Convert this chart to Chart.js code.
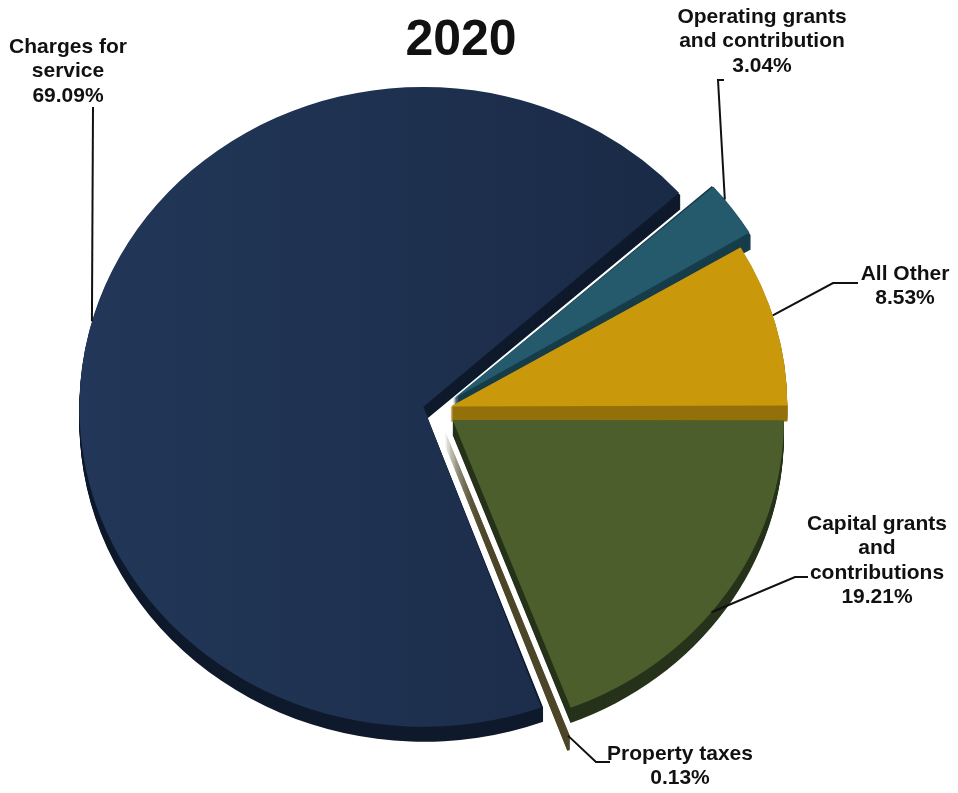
<!DOCTYPE html>
<html>
<head>
<meta charset="utf-8">
<script src="https://cdn.jsdelivr.net/npm/chart.js@4.4.1/dist/chart.umd.min.js"></script>
<style>
  html, body { margin: 0; padding: 0; background: #fff; }
  #wrap { width: 958px; height: 793px; }
</style>
</head>
<body>
<div id="wrap"><canvas id="revenueChart" width="958" height="793"></canvas></div>
<script>
// slices run clockwise from 3 o'clock
const categories = ["Capital grants and contributions", "Property taxes", "Charges for service", "Operating grants and contribution", "All Other"];
const shares = [19.21, 0.13, 69.09, 3.04, 8.53];
const labelLines = [
  ["Capital grants", "and", "contributions"],
  ["Property taxes"],
  ["Charges for", "service"],
  ["Operating grants", "and contribution"],
  ["All Other"]
];
const chartTitle = "2020";

const faceColors = ["#4b5e2b", "#bcae74", "#1e3150", "#245a6c", "#c9980b"];
const sideColors = ["#26331a", "#4d4628", "#0f1a2c", "#173c4a", "#93700a"];
const explode = [76, 88, 56, 80, 56];

const tilt = 0.93;   // squash the pie vertically so it reads as tilted
const depth = 15;    // thickness of the slice sides

// where each leader touches its slice (degrees), its elbow and the text block
const leaders = [
  { angle: 38.6, path: [[808, 577], [795, 577]], x: 877, y: 524 },
  { angle: 69.5, path: [[610, 762], [596, 762]], x: 680, y: 754 },
  { angle: 195.5, path: [[93, 107]], x: 68, y: 47 },
  { angle: -38.3, path: [[724, 80], [718, 80]], x: 762, y: 17 },
  { angle: -16.9, path: [[858, 283], [833, 283]], x: 905, y: 274 }
];

function sliceGeom(arc, offset) {
  const p = arc.getProps(['x', 'y', 'startAngle', 'endAngle', 'outerRadius']);
  const t = offset / 4;
  const mid = (p.startAngle + p.endAngle) / 2;
  const circ = p.endAngle - p.startAngle;
  return {
    cx: p.x + Math.cos(mid) * t,
    cy: p.y + Math.sin(mid) * t,
    r: p.outerRadius + t * (1 - Math.sin(Math.min(Math.PI, circ))),
    start: p.startAngle,
    end: p.endAngle,
    y0: p.y
  };
}

// the big slice gets a soft left-to-right shading
function faceColor(c) {
  if (c.dataIndex !== 2 || !c.chart.chartArea) return faceColors[c.dataIndex];
  const g = c.chart.ctx.createLinearGradient(80, 0, 680, 0);
  g.addColorStop(0, '#223759');
  g.addColorStop(1, '#1a2b47');
  return g;
}

const tiltPlugin = {
  id: 'tilt',
  beforeDatasetsDraw(chart) {
    const ctx = chart.ctx;
    const arcs = chart.getDatasetMeta(0).data;
    const y0 = arcs[0].y;
    ctx.save();
    ctx.translate(0, y0);
    ctx.scale(1, tilt);
    ctx.translate(0, -y0);
    // sides first, so every face sits on top of them
    arcs.forEach((arc, i) => {
      const g = sliceGeom(arc, explode[i]);
      ctx.fillStyle = sideColors[i];
      for (let d = depth; d > 0; d--) {
        ctx.beginPath();
        ctx.moveTo(g.cx, g.cy + d / tilt);
        ctx.arc(g.cx, g.cy + d / tilt, g.r, g.start, g.end);
        ctx.closePath();
        ctx.fill();
      }
    });
  },
  afterDatasetsDraw(chart) {
    chart.ctx.restore();
  },
  afterDraw(chart) {
    const ctx = chart.ctx;
    const arcs = chart.getDatasetMeta(0).data;
    ctx.save();
    ctx.fillStyle = '#111';
    ctx.textAlign = 'center';
    ctx.textBaseline = 'middle';
    ctx.font = 'bold 50px "Liberation Sans", Arial, sans-serif';
    ctx.fillText(chartTitle, 461, 41);

    ctx.strokeStyle = '#111';
    ctx.lineWidth = 2;
    ctx.font = 'bold 21px "Liberation Sans", Arial, sans-serif';
    leaders.forEach((ld, i) => {
      const g = sliceGeom(arcs[i], explode[i]);
      const a = ld.angle * Math.PI / 180;
      const ex = g.cx + Math.cos(a) * g.r;
      const ey = g.y0 + tilt * (g.cy + Math.sin(a) * g.r - g.y0);
      ctx.beginPath();
      ctx.moveTo(ld.path[0][0], ld.path[0][1]);
      ld.path.slice(1).forEach(pt => ctx.lineTo(pt[0], pt[1]));
      ctx.lineTo(ex, ey);
      ctx.stroke();

      const lines = labelLines[i].concat([shares[i].toFixed(2) + '%']);
      lines.forEach((txt, j) => ctx.fillText(txt, ld.x, ld.y + j * 24.5));
    });
    ctx.restore();
  }
};

const ctx = document.getElementById('revenueChart').getContext('2d');
const chart = new Chart(ctx, {
  type: 'pie',
  data: {
    labels: categories,
    datasets: [{
      data: shares,
      backgroundColor: faceColor,
      borderWidth: 0,
      offset: explode,
      clip: false
    }]
  },
  options: {
    responsive: false,
    animation: false,
    events: [],
    rotation: 90,
    radius: 330,
    layout: { padding: { left: 0, right: 84, top: 27, bottom: 0 } },
    plugins: {
      legend: { display: false },
      title: { display: false },
      tooltip: { enabled: false }
    }
  },
  plugins: [tiltPlugin]
});
</script>
</body>
</html>
